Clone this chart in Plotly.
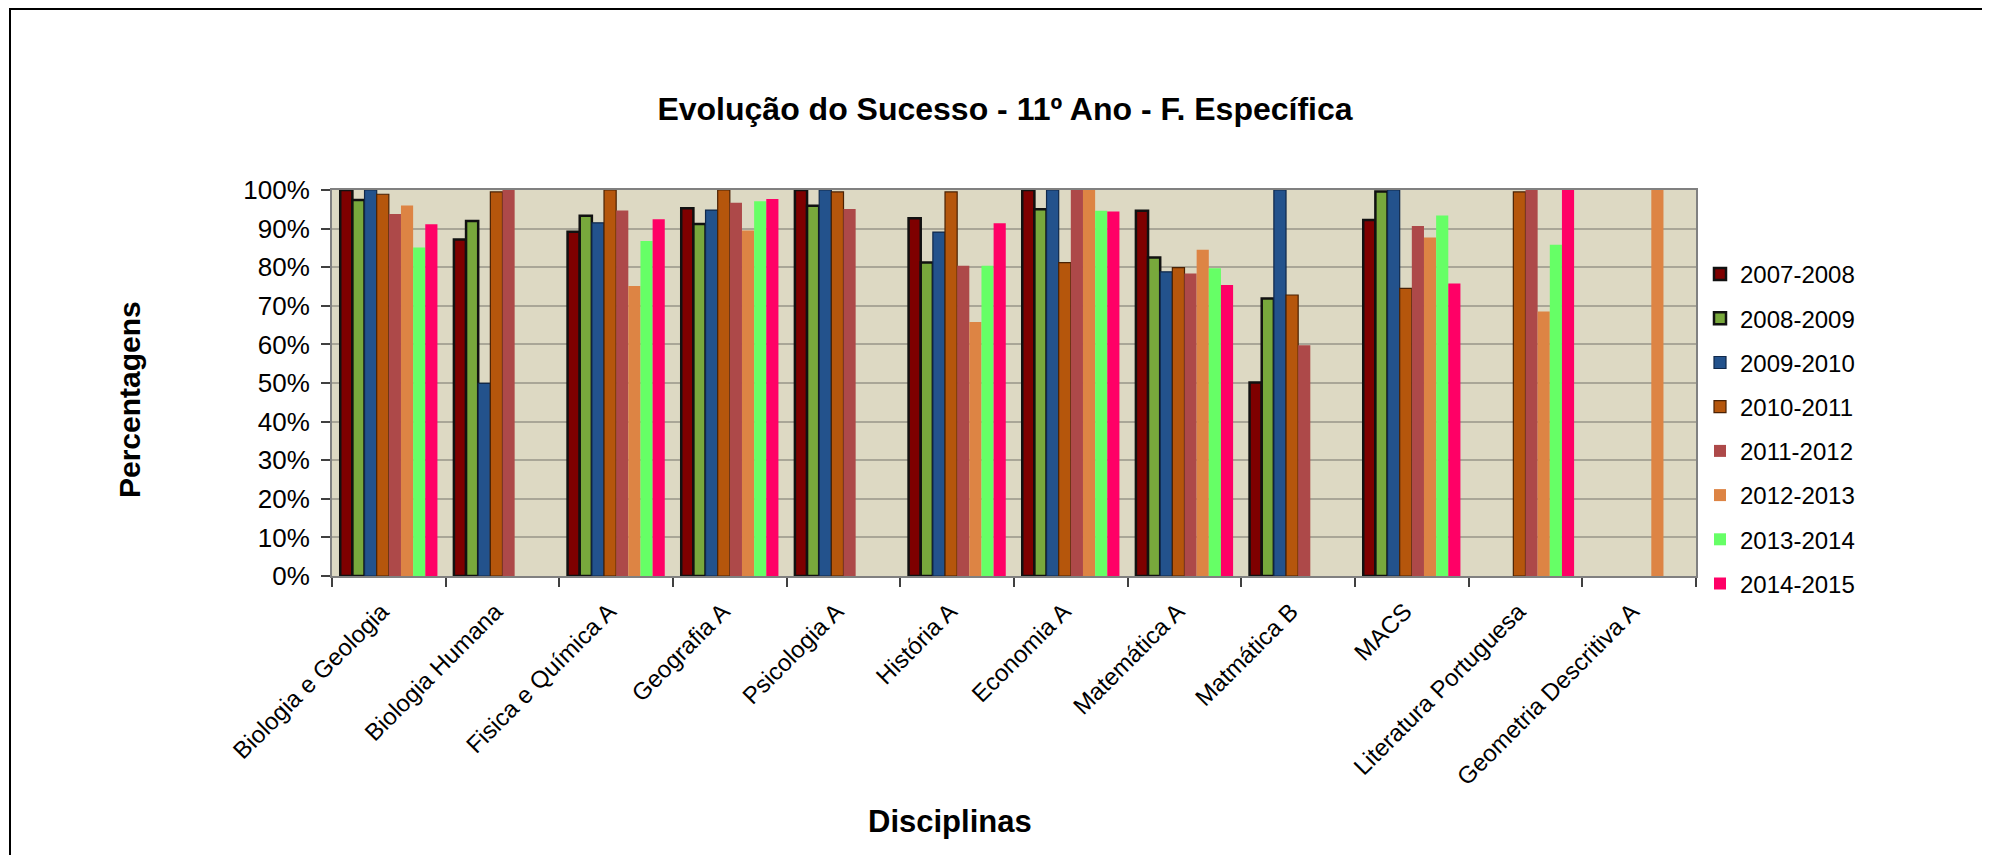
import plotly.graph_objects as go

categories = ["Biologia e Geologia", "Biologia Humana", "Fisica e Química A", "Geografia A",
              "Psicologia A", "História A", "Economia A", "Matemática A", "Matmática B",
              "MACS", "Literatura Portuguesa", "Geometria Descritiva A"]

y2007_2008 = [100, 87.2, 89.2, 95.3, 100, 92.7, 100, 94.6, 50.1, 92.2, None, None]
y2008_2009 = [97.4, 92.0, 93.3, 91.2, 95.9, 81.2, 95.0, 82.5, 71.9, 99.6, None, None]
y2009_2010 = [100, 49.9, 91.5, 94.8, 100, 89.1, 100, 78.8, 100, 100, None, None]
y2010_2011 = [98.9, 99.5, 100, 100, 99.5, 99.5, 81.2, 79.9, 72.8, 74.5, 99.5, None]
y2011_2012 = [93.8, 100, 94.7, 96.7, 95.1, 80.4, 100, 78.4, 59.8, 90.7, 100, None]
y2012_2013 = [96.0, None, 75.1, 89.5, None, 65.8, 100, 84.5, None, 87.7, 68.5, 100]
y2013_2014 = [85.1, None, 86.8, 97.1, None, 80.4, 94.6, 79.7, None, 93.4, 85.8, None]
y2014_2015 = [91.1, None, 92.4, 97.7, None, 91.4, 94.4, 75.4, None, 75.8, 100, None]

series_names = ["2007-2008", "2008-2009", "2009-2010", "2010-2011",
                "2011-2012", "2012-2013", "2013-2014", "2014-2015"]
series_values = [y2007_2008, y2008_2009, y2009_2010, y2010_2011,
                 y2011_2012, y2012_2013, y2013_2014, y2014_2015]
colors = ["#7E0000", "#78A83C", "#23528C", "#B5560C", "#AD4949", "#DD8444", "#66FF66", "#FF0066"]
line_colors = ["#111111", "#111111", "#10284A", "#4A2204", "#AD4949", "#DD8444", "#66FF66", "#FF0066"]
line_widths = [2.5, 2.5, 1.2, 1.2, 0, 0, 0, 0]

# page geometry (the page body has an 8px margin)
OFF = 8
PAGE_W, PAGE_H = 1990, 855
W, H = PAGE_W - OFF, PAGE_H - OFF
L, R, T, B = 332, 1696, 190, 576   # plot area in page pixels

def px(x):
    return (x - L) / (R - L)

def py(y):
    return (B - y) / (B - T)

fig = go.Figure()
for name, vals, c, lc, lw in zip(series_names, series_values, colors, line_colors, line_widths):
    fig.add_trace(go.Bar(
        x=categories, y=vals, name=name, legendgroup=name,
        marker=dict(color=c, line=dict(color=lc, width=lw)),
    ))

font = "Arial, Liberation Sans, sans-serif"
fig.update_layout(
    width=W, height=H,
    margin=dict(l=L - OFF, r=W - (R - OFF), t=T - OFF, b=H - (B - OFF), autoexpand=False),
    paper_bgcolor="white",
    plot_bgcolor="#DDD9C3",
    barmode="group",
    bargap=0.145,
    bargroupgap=0,
    font=dict(family=font, color="#000000"),
    title=dict(text="<b>Evolução do Sucesso - 11º Ano - F. Específica</b>",
               x=(1005 - OFF) / W, xanchor="center", y=1 - (109 - OFF) / H, yanchor="middle",
               font=dict(size=32, family=font)),
    legend=dict(x=px(1700), xanchor="left", y=py(252), yanchor="top",
                font=dict(size=24, family=font), tracegroupgap=10,
                bgcolor="rgba(0,0,0,0)"),
    showlegend=True,
)
fig.update_yaxes(range=[0, 100], dtick=10, ticksuffix="%",
                 showgrid=True, gridcolor="#A9A697", gridwidth=1.5,
                 showline=True, linecolor="#808080", linewidth=2, mirror=True,
                 ticks="outside", ticklen=9, tickcolor="#404040", tickwidth=1.5,
                 ticklabelstandoff=6,
                 tickfont=dict(size=26, family=font), zeroline=False)
fig.update_xaxes(showline=True, linecolor="#808080", linewidth=2, mirror=True,
                 ticks="outside", ticklen=9, tickcolor="#404040", tickwidth=1.5,
                 tickson="boundaries", tickangle=-45,
                 ticklabelstandoff=10, ticklabelshift=-7,
                 tickfont=dict(size=24, family=font))

fig.add_annotation(text="<b>Disciplinas</b>", x=px(950), y=py(821), xref="paper", yref="paper",
                   showarrow=False, xanchor="center", yanchor="middle",
                   font=dict(size=31, family=font))
fig.add_annotation(text="<b>Percentagens</b>", x=px(129), y=py(400), xref="paper", yref="paper",
                   showarrow=False, xanchor="center", yanchor="middle", textangle=-90,
                   font=dict(size=30, family=font))

# outer chart frame (top and left edges visible in the picture)
fig.add_shape(type="path", xref="paper", yref="paper",
              path=f"M {px(10)} {py(900)} L {px(10)} {py(9)} L {px(2000)} {py(9)}",
              line=dict(color="#000000", width=2))

fig.write_html("out.html")
